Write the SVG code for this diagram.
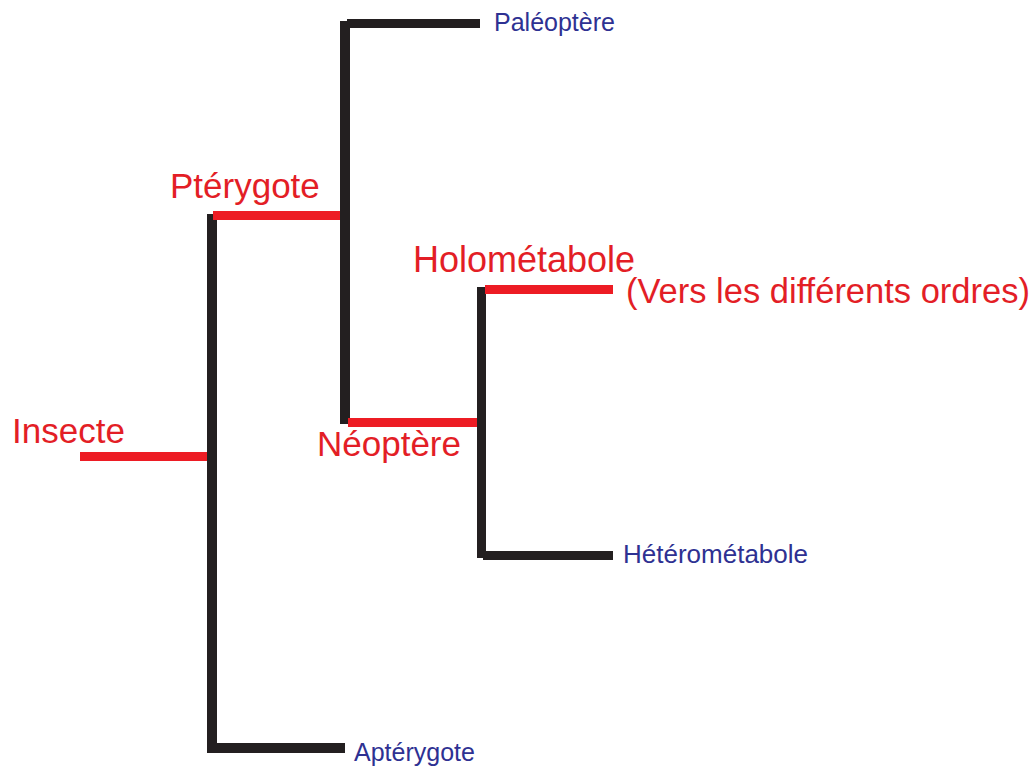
<svg xmlns="http://www.w3.org/2000/svg" width="1035" height="767" viewBox="0 0 1035 767">
  <style>
    .blk { fill: #231f20; }
    .red { fill: #ed1c24; }
    .lr { font-family: "Liberation Sans", Arial, sans-serif; font-size: 35px; fill: #e31e26; }
    .lb { font-family: "Liberation Sans", Arial, sans-serif; font-size: 25px; fill: #2e3192; }
  </style>
  <rect width="1035" height="767" fill="#ffffff"/>
  <g id="connectors">
    <rect class="red" x="80" y="452" width="128" height="9"/>
    <rect class="blk" x="207" y="214" width="10" height="539"/>
    <rect class="blk" x="212" y="743" width="133" height="10"/>
    <rect class="red" x="213" y="211" width="128" height="9"/>
    <rect class="blk" x="340" y="21" width="10" height="403"/>
    <rect class="blk" x="347" y="19" width="133" height="9"/>
    <rect class="red" x="348" y="418" width="129" height="9"/>
    <rect class="blk" x="477" y="287" width="9" height="271"/>
    <rect class="red" x="485" y="285" width="128" height="9"/>
    <rect class="blk" x="483" y="551" width="130" height="9"/>
  </g>
  <g id="insecte"><text class="lr" x="12" y="443">Insecte</text></g>
  <g id="pterygote"><text class="lr" x="170" y="198">Ptérygote</text></g>
  <g id="neoptere"><text class="lr" x="317" y="456">Néoptère</text></g>
  <g id="holometabole"><text class="lr" x="413" y="272" style="font-size:36px">Holométabole</text></g>
  <g id="ordres"><text class="lr" x="626" y="303" style="font-size:34.5px">(Vers les différents ordres)</text></g>
  <g id="paleoptere"><text class="lb" x="494" y="31">Paléoptère</text></g>
  <g id="heterometabole"><text class="lb" x="623" y="563" style="font-size:26px">Hétérométabole</text></g>
  <g id="apterygote"><text class="lb" x="354" y="761">Aptérygote</text></g>
</svg>
